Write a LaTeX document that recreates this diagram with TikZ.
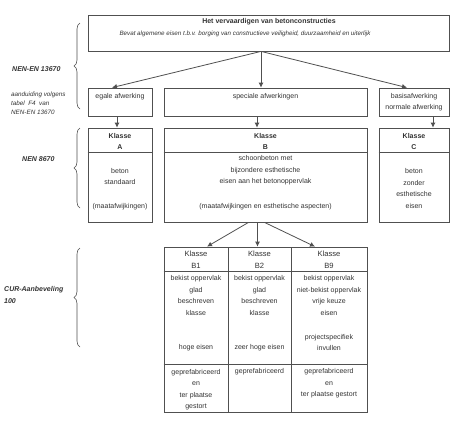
\documentclass[tikz,border=0pt]{standalone}
\usepackage{fontspec}
\setmainfont{Liberation Sans}
\usetikzlibrary{arrows.meta,decorations.pathreplacing}
\definecolor{ln}{HTML}{505050}
\definecolor{tx}{HTML}{333333}
\begin{document}
\begin{tikzpicture}[x=1pt,y=-1pt,
  box/.style={draw=ln,line width=0.8pt,inner sep=0pt,rectangle},
  txt/.style={text=tx,font=\fontsize{7}{11.5}\selectfont,align=center,inner sep=0pt},
  txtb/.style={txt,font=\fontsize{7}{11.5}\selectfont\bfseries},
  txth/.style={txt,font=\fontsize{7.6}{12}\selectfont},
  side/.style={text=tx,font=\fontsize{7}{12}\selectfont\bfseries\itshape,align=left,inner sep=0pt,anchor=west},
  sidesmall/.style={text=tx,font=\fontsize{6.3}{8.8}\selectfont\itshape,align=left,inner sep=0pt,anchor=west},
  arr/.style={draw=ln,line width=0.8pt,-{Latex[length=5pt,width=5pt]}},
  brc/.style={draw=ln,line width=0.6pt,decorate,decoration={brace,mirror,amplitude=6pt}}]
\useasboundingbox[fill=white] (0,0) rectangle (470,426);

% top box
\node[box,minimum width=361,minimum height=36] (top) at (268.5,33) {};
\node[txtb] (toptitle) at (269,21.5) {Het vervaardigen van betonconstructies};
\node[txt,font=\fontsize{6.25}{11}\selectfont\itshape] (topsub) at (245,34) {Bevat algemene eisen t.b.v. borging van constructieve veiligheid, duurzaamheid en uiterlijk};

% row 1 boxes
\node[box,minimum width=64,minimum height=28] (egale) at (120,102) {};
\node[txt] (egalet) at (120,97) {egale afwerking};
\node[box,minimum width=203,minimum height=28] (spec) at (265.5,102) {};
\node[txt] (spect) at (265.5,97) {speciale afwerkingen};
\node[box,minimum width=70,minimum height=28] (basis) at (414,102) {};
\node[txt] (basist) at (414,102) {basisafwerking\\normale afwerking};

% row 2 boxes
\node[box,minimum width=64,minimum height=94] (kA) at (120,175) {};
\node[box,minimum width=203,minimum height=94] (kB) at (265.5,175) {};
\node[box,minimum width=70,minimum height=94] (kC) at (414,175) {};
\draw[draw=ln,line width=0.8pt] (kA.west |- 0,152) -- (kA.east |- 0,152);
\draw[draw=ln,line width=0.8pt] (kB.west |- 0,152) -- (kB.east |- 0,152);
\draw[draw=ln,line width=0.8pt] (kC.west |- 0,152) -- (kC.east |- 0,152);
\node[txtb] (kAh) at (120,141.5) {Klasse\\A};
\node[txtb] (kBh) at (265.5,141.5) {Klasse\\B};
\node[txtb] (kCh) at (414,141.5) {Klasse\\C};
\node[txt] (kAt) at (120,176.5) {beton\\standaard};
\node[txt] (kAm) at (120,207) {(maatafwijkingen)};
\node[txt] (kBt) at (265.5,170.5) {schoonbeton met\\bijzondere esthetische\\eisen aan het betonoppervlak};
\node[txt] (kBm) at (265.5,207) {(maatafwijkingen en esthetische aspecten)};
\node[txt] (kCt) at (414,188.5) {beton\\zonder\\esthetische\\eisen};

% table
\node[box,minimum width=64,minimum height=165] (b1) at (196,329.5) {};
\node[box,minimum width=63,minimum height=165] (b2) at (259.5,329.5) {};
\node[box,minimum width=76,minimum height=165] (b9) at (329,329.5) {};
\draw[draw=ln,line width=0.8pt] (b1.west |- 0,271) -- (b9.east |- 0,271);
\draw[draw=ln,line width=0.8pt] (b1.west |- 0,364) -- (b9.east |- 0,364);
\node[txth] (b1h) at (196,260) {Klasse\\B1};
\node[txth] (b2h) at (259.5,260) {Klasse\\B2};
\node[txth] (b9h) at (329,260) {Klasse\\B9};
\node[txt] (b1t) at (196,295.5) {bekist oppervlak\\glad\\beschreven\\klasse};
\node[txt] (b1e) at (196,348) {hoge eisen};
\node[txt] (b2t) at (259.5,295.5) {bekist oppervlak\\glad\\beschreven\\klasse};
\node[txt] (b2e) at (259.5,348) {zeer hoge eisen};
\node[txt] (b9t) at (329,295.5) {bekist oppervlak\\niet-bekist oppervlak\\vrije keuze\\eisen};
\node[txt] (b9e) at (329,342.5) {projectspecifiek\\invullen};
\node[txt] (b1b) at (196,389.5) {geprefabriceerd\\en\\ter plaatse\\gestort};
\node[txt] (b2b) at (259.5,372) {geprefabriceerd};
\node[txt] (b9b) at (329,383.5) {geprefabriceerd\\en\\ter plaatse gestort};

% arrows
\draw[arr] ([xshift=-7.5pt]top.south) -- ([xshift=-8pt]egale.north);
\draw[arr] ([xshift=-7.5pt]top.south) -- ([xshift=-4.5pt]spec.north);
\draw[arr] ([xshift=-7.5pt]top.south) -- ([xshift=-7pt]basis.north);
\draw[arr] ([xshift=-3pt]egale.south) -- ([xshift=-3pt]kA.north);
\draw[arr] ([xshift=-8.5pt]spec.south) -- ([xshift=-8.5pt]kB.north);
\draw[arr] ([xshift=19pt]basis.south) -- ([xshift=19pt]kC.north);
\draw[arr] ([xshift=-17pt]kB.south) -- ([xshift=11pt]b1.north);
\draw[arr] ([xshift=-8pt]kB.south) -- ([xshift=-2pt]b2.north);
\draw[arr] ([xshift=-1pt]kB.south) -- ([xshift=-14pt]b9.north);

% braces and side labels
\coordinate (br1a) at (80,109);
\coordinate (br1b) at (80,23);
\draw[brc] (br1b) -- (br1a);
\node[side] (l1) at (12,69.5) {NEN-EN 13670};
\node[sidesmall] (l1s) at (11,103) {aanduiding volgens\\tabel\ \ F4\ \ van\\NEN-EN 13670};
\coordinate (br2a) at (80,208);
\coordinate (br2b) at (80,128);
\draw[brc] (br2b) -- (br2a);
\node[side] (l2) at (22,159) {NEN 8670};
\coordinate (br3a) at (80,347);
\coordinate (br3b) at (80,248);
\draw[brc] (br3b) -- (br3a);
\node[side] (l3) at (4,295) {CUR-Aanbeveling\\100};
\end{tikzpicture}
\end{document}
